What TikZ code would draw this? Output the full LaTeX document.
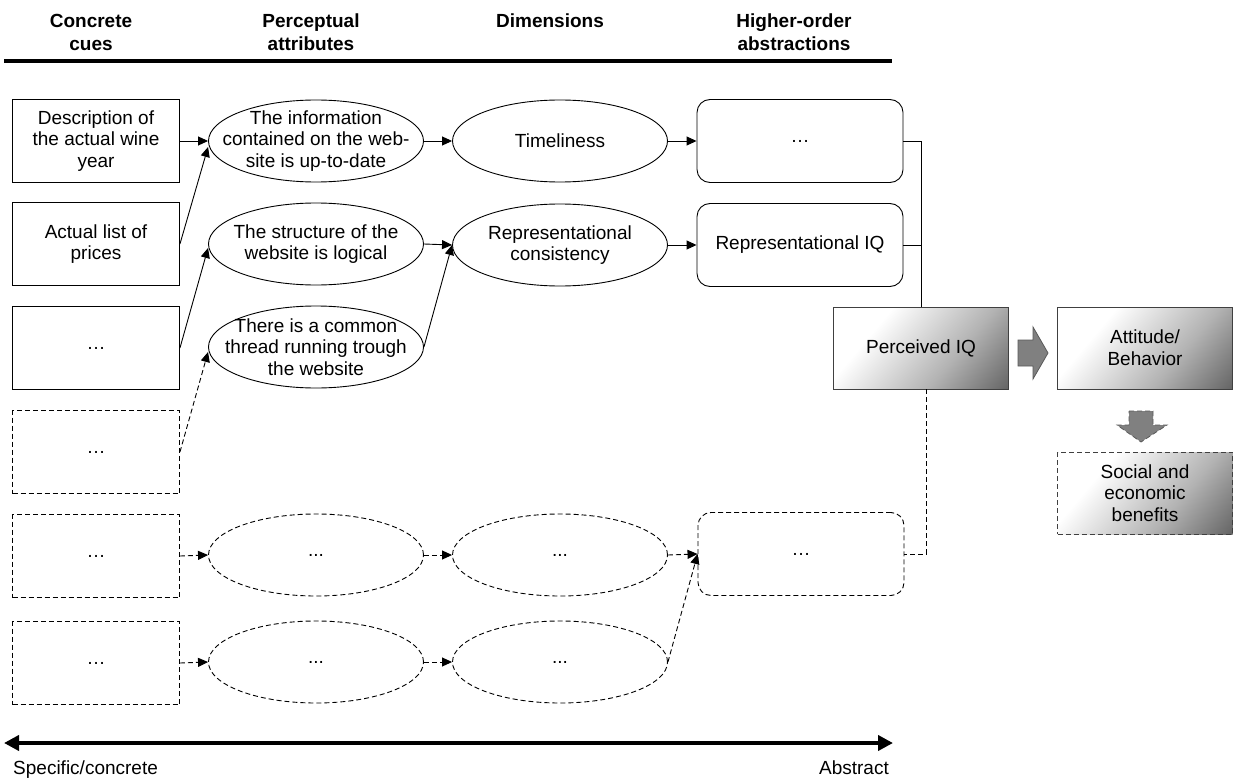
\documentclass[tikz,border=0pt]{standalone}
\usepackage{fontspec}
\setmainfont{Liberation Sans}
\usetikzlibrary{arrows.meta,shapes.geometric}

\pgfdeclarehorizontalshading{iqfade}{100bp}{color(0bp)=(white); color(32bp)=(white); color(62bp)=(black!30); color(100bp)=(black!80)}

\begin{document}
\begin{tikzpicture}[x=1pt, y=-1pt,
    every node/.style={font=\fontsize{19}{21.7}\selectfont, align=center, inner sep=2pt},
    head/.style={font=\bfseries\fontsize{19}{23}\selectfont},
    cue/.style={draw, line width=0.9pt, minimum width=167pt, minimum height=83pt},
    attr/.style={draw, ellipse, line width=0.9pt, minimum width=215pt, minimum height=82pt, inner sep=0pt},
    abstr/.style={draw, rounded corners=13pt, line width=0.9pt, minimum width=206pt, minimum height=83pt},
    iq/.style={draw=black!75, line width=0.9pt, shade, shading=iqfade, shading angle=-40, minimum width=175pt, minimum height=82pt},
    dsh/.style={dash pattern=on 5pt off 3pt},
    blockarr/.style={fill=black!50, draw=black!65, line width=0.8pt},
    >={Triangle[length=10pt,width=9pt]}]
    \useasboundingbox (0,0) rectangle (1233,778);

    \node[head] (hcue) at (91,32) {Concrete\\cues};
    \node[head] (hattr) at (311,32) {Perceptual\\attributes};
    \node[head] (hdim) at (550,21) {Dimensions};
    \node[head] (habs) at (794,32) {Higher-order\\abstractions};
    \draw[line width=4pt] (4,61) -- (892,61);

    \node[cue] (c1) at (96,141) {Description of\\the actual wine\\year};
    \node[cue] (c2) at (96,244) {Actual list of\\prices};
    \node[cue] (c3) at (96,348) {…};
    \node[cue,dsh] (c4) at (96,452) {…};
    \node[cue,dsh] (c5) at (96,556) {…};
    \node[cue,dsh] (c6) at (96,663) {…};

    \node[attr, label=center:{The information\\contained on the web-\\site is up-to-date}] (a1) at (316,141) {};
    \node[attr, label=center:{The structure of the\\website is logical}] (a2) at (316,244) {};
    \node[attr, label=center:{There is a common\\thread running trough\\the website}] (a3) at (316,347) {};
    \node[attr,dsh, label=center:{...}] (a5) at (316,555) {};
    \node[attr,dsh, label=center:{...}] (a6) at (316,662) {};

    \node[attr, label=center:{Timeliness}] (d1) at (560,141) {};
    \node[attr, label=center:{Representational\\consistency}] (d2) at (560,245) {};
    \node[attr,dsh, label=center:{...}] (d5) at (560,555) {};
    \node[attr,dsh, label=center:{...}] (d6) at (560,662) {};

    \node[abstr] (h1) at (800,141) {…};
    \node[abstr] (h2) at (800,245) {Representational IQ};
    \node[abstr,dsh] (h5) at (801,554) {…};

    \node[iq] (piq) at (921,348) {Perceived IQ};
    \node[iq] (att) at (1145,348) {Attitude/\\Behavior};
    \node[iq,dsh] (soc) at (1145,493) {Social and\\economic\\benefits};

    \begin{scope}[every path/.style={->, line width=0.9pt}]
    \draw (c1.east) -- (a1.west);
    \draw (c2.east) -- ([yshift=-6pt]a1.west);
    \draw (c3.east) -- ([yshift=-4pt]a2.west);
    \draw (a1.east) -- (d1.west);
    \draw (a2.east) -- (d2.west);
    \draw (a3.east) -- (d2.west);
    \draw (d1.east) -- (h1.west);
    \draw (d2.east) -- (h2.west);
    \end{scope}

    \begin{scope}[every path/.style={->, line width=0.9pt, dsh}]
    \draw (c4.east) -- ([yshift=-5pt]a3.west);
    \draw (c5.east) -- (a5.west);
    \draw (a5.east) -- (d5.west);
    \draw (d5.east) -- (h5.west);
    \draw (c6.east) -- (a6.west);
    \draw (a6.east) -- (d6.west);
    \draw (d6.east) -- (h5.west);
    \end{scope}

    \draw[line width=0.9pt] (h1.east) -| (piq.north);
    \draw[line width=0.9pt] (h2.east) -- (h2.east -| piq.north);
    \draw[line width=0.9pt, dsh] ([xshift=5pt]piq.south) |- (h5.east);

    % block arrows
    \draw[blockarr] (1018,340) -- (1033,340) -- (1033,327) -- (1048,353) -- (1033,379) -- (1033,366) -- (1018,366) -- cycle;
    \draw[blockarr, dsh] (1129,411) -- (1153,411) -- (1153,425) -- (1167,425) -- (1141,442) -- (1117,425) -- (1129,425) -- cycle;

    \coordinate (lo) at (4,743);
    \coordinate (hi) at (893,743);
    \draw[line width=4pt, {Triangle[length=15pt,width=15pt]}-{Triangle[length=15pt,width=15pt]}] (lo) -- (hi);
    \node[anchor=base west] (spec) at (11,774) {Specific/concrete};
    \node[anchor=base east] (abst) at (891,774) {Abstract};
\end{tikzpicture}
\end{document}
